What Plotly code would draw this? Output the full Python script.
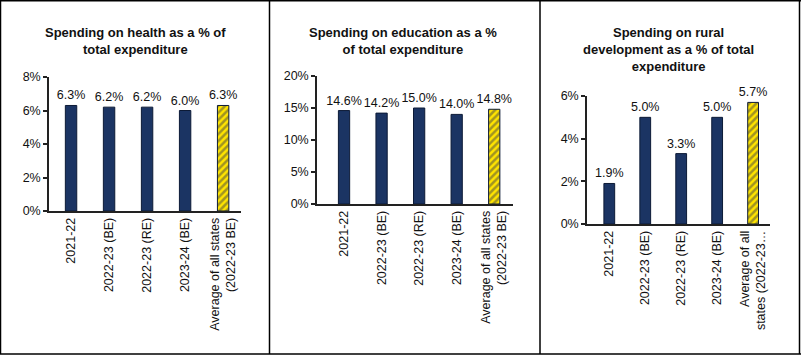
import plotly.graph_objects as go

W, H = 801, 357

categories = ["2021-22", "2022-23 (BE)", "2022-23 (RE)", "2023-24 (BE)",
              "Average of all states<br>(2022-23 BE)"]
categories_rural = ["2021-22", "2022-23 (BE)", "2022-23 (RE)", "2023-24 (BE)",
                    "Average of all<br>states (2022-23…"]

health = [6.3, 6.2, 6.2, 6.0, 6.3]
education = [14.6, 14.2, 15.0, 14.0, 14.8]
rural = [1.9, 5.0, 3.3, 5.0, 5.7]

health_ticks = [0, 2, 4, 6, 8]
education_ticks = [0, 5, 10, 15, 20]
rural_ticks = [0, 2, 4, 6]

titles = ["Spending on health as a % of<br>total expenditure",
          "Spending on education as a %<br>of total expenditure",
          "Spending on rural<br>development as a % of total<br>expenditure"]

NAVY = "#1B3463"
YELLOW = "#FFE400"
FONT = "Liberation Sans, Arial, sans-serif"
FS = 12.5

panels = [
    dict(cats=categories, vals=health, ticks=health_ticks, x0=49, x1=241, yb=211, yt=77, xr=[-0.58, 4.47]),
    dict(cats=categories, vals=education, ticks=education_ticks, x0=317, x1=513, yb=204, yt=76, xr=[-0.72, 4.5]),
    dict(cats=categories_rural, vals=rural, ticks=rural_ticks, x0=587, x1=770, yb=224, yt=96, xr=[-0.62, 4.47]),
]

fig = go.Figure()
for i, p in enumerate(panels):
    n = i + 1
    xa = "x" if n == 1 else f"x{n}"
    ya = "y" if n == 1 else f"y{n}"
    k = len(p["vals"])
    colors = [NAVY] * (k - 1) + [YELLOW]
    shapes = [""] * (k - 1) + ["/"]
    fig.add_trace(go.Bar(
        x=list(range(k)), y=p["vals"], xaxis=xa, yaxis=ya,
        width=0.3,
        marker=dict(color=colors, line=dict(color="#0c1a36", width=1),
                    pattern=dict(shape=shapes, fgcolor="black",
                                 size=5, solidity=0.5, fillmode="overlay")),
        text=[f"{v:.1f}%" for v in p["vals"]], textposition="outside",
        constraintext="none",
        textfont=dict(family=FONT, size=FS, color="#111"),
        cliponaxis=False, showlegend=False, hoverinfo="skip",
    ))
    xkey = "xaxis" if n == 1 else f"xaxis{n}"
    ykey = "yaxis" if n == 1 else f"yaxis{n}"
    fig.update_layout(**{
        xkey: dict(domain=[p["x0"] / W, p["x1"] / W], anchor=ya,
                   range=p["xr"], tickmode="array", automargin=False,
                   tickvals=list(range(k)), ticktext=p["cats"],
                   tickangle=-90, showgrid=False, zeroline=False,
                   showline=True, linecolor="#222", linewidth=1.5, ticks="",
                   tickfont=dict(family=FONT, size=FS, color="#111")),
        ykey: dict(domain=[(H - p["yb"]) / H, (H - p["yt"]) / H], anchor=xa,
                   range=[0, p["ticks"][-1]], tickmode="array", automargin=False,
                   tickvals=p["ticks"], ticktext=[f"{t}%" for t in p["ticks"]],
                   showgrid=False, zeroline=False, showline=True,
                   linecolor="#222", linewidth=1.5, ticks="outside",
                   ticklen=4, tickcolor="#222", tickwidth=1.5,
                   tickfont=dict(family=FONT, size=FS, color="#111")),
    })

title_pos = [(135, 32), (403, 32), (668, 32)]
annotations = []
for t, (cx, cy) in zip(titles, title_pos):
    annotations.append(dict(
        text=f"<b>{t}</b>", x=cx / W, y=1 - (cy - 9) / H, xref="paper", yref="paper",
        xanchor="center", yanchor="top", showarrow=False,
        font=dict(family=FONT, size=13, color="#111"), align="center"))

border = dict(color="black", width=1.5)
shapes = [
    dict(type="line", xref="paper", yref="paper", x0=0.5 / W, x1=0.5 / W, y0=1 - 354 / H, y1=1, line=border),
    dict(type="line", xref="paper", yref="paper", x0=269.5 / W, x1=269.5 / W, y0=1 - 354 / H, y1=1, line=border),
    dict(type="line", xref="paper", yref="paper", x0=540 / W, x1=540 / W, y0=1 - 354 / H, y1=1, line=border),
    dict(type="line", xref="paper", yref="paper", x0=799.5 / W, x1=799.5 / W, y0=1 - 354 / H, y1=1, line=border),
    dict(type="line", xref="paper", yref="paper", x0=0, x1=1, y0=1 - 0.75 / H, y1=1 - 0.75 / H, line=border),
    dict(type="line", xref="paper", yref="paper", x0=0, x1=1, y0=1 - 354 / H, y1=1 - 354 / H, line=border),
]

fig.update_layout(width=W, height=H, margin=dict(l=0, r=0, t=0, b=0, autoexpand=False),
                  paper_bgcolor="white", plot_bgcolor="white",
                  annotations=annotations, shapes=shapes)

post = ("document.body.style.margin='0';document.body.style.overflow='hidden';")
fig.write_html("out.html", config={"displayModeBar": False}, post_script=post)
